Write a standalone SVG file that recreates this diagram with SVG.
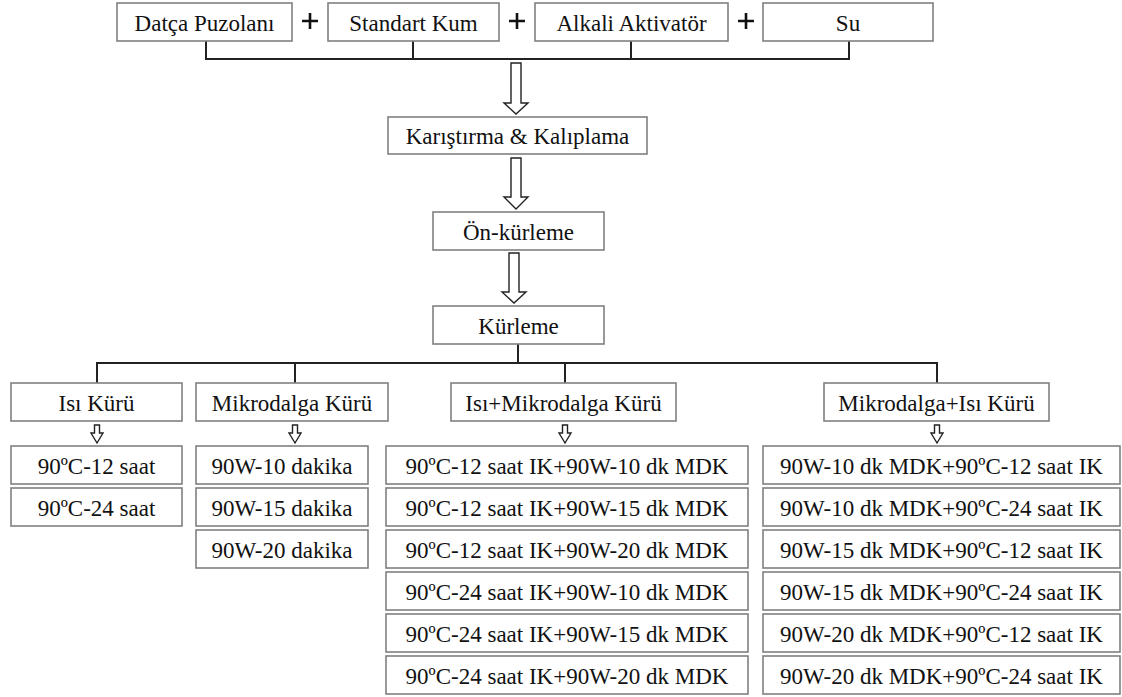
<svg xmlns="http://www.w3.org/2000/svg" width="1122" height="697" viewBox="0 0 1122 697">
<style>
.b{fill:#fff;stroke:#808080;stroke-width:1.6}
.t{font-family:'Liberation Serif','Times New Roman','DejaVu Serif',serif;font-size:23px;fill:#111;text-anchor:middle}
.c{fill:none;stroke:#222;stroke-width:2}
.a{fill:#fff;stroke:#222;stroke-width:1.4;stroke-linejoin:miter}
.p{stroke:#111;stroke-width:2.6}
</style>
<rect width="1122" height="697" fill="#fff"/>
<g id="connectors">
<path class="c" d="M206 41V59M413 41V59M631 41V59M849 41V59M205 59H850"/>
<path class="c" d="M518 344V363M97 383V363H937V383M295 363V383M565 363V383"/>
<polygon class="a" points="511,63 521,63 521,103 528,103 516,114 504,103 511,103"/>
<polygon class="a" points="511,158 521,158 521,197 528,197 516,209 504,197 511,197"/>
<polygon class="a" points="509,253 519,253 519,292 526,292 514,303 502,292 509,292"/>
<g id="smallarrows">
<polygon class="a" points="94.5,425 99.5,425 99.5,433 103,433 97,443 91,433 94.5,433"/>
<polygon class="a" points="292.5,425 297.5,425 297.5,433 301,433 295,443 289,433 292.5,433"/>
<polygon class="a" points="562.5,425 567.5,425 567.5,433 571,433 565,443 559,433 562.5,433"/>
<polygon class="a" points="934.5,425 939.5,425 939.5,433 943,433 937,443 931,433 934.5,433"/>
</g>
</g>
<g id="plus">
<path class="p" d="M302 21H318M310 13V29"/>
<path class="p" d="M509 21H525M517 13V29"/>
<path class="p" d="M738 21H754M746 13V29"/>
</g>
<g font-family="Liberation Serif, Times New Roman, DejaVu Serif, serif">
<g id="n-datca"><rect class="b" x="117" y="3" width="175" height="38"/><text class="t" x="204.5" y="31">Datça Puzolanı</text></g>
<g id="n-kum"><rect class="b" x="328" y="3" width="171" height="38"/><text class="t" x="413.5" y="31">Standart Kum</text></g>
<g id="n-alkali"><rect class="b" x="535" y="3" width="193" height="38"/><text class="t" x="631.5" y="31">Alkali Aktivatör</text></g>
<g id="n-su"><rect class="b" x="763" y="3" width="170" height="38"/><text class="t" x="848" y="31">Su</text></g>
<g id="n-karistirma"><rect class="b" x="388" y="117" width="259" height="37"/><text class="t" x="517.5" y="144">Karıştırma &amp; Kalıplama</text></g>
<g id="n-onkurleme"><rect class="b" x="433" y="212" width="171" height="38"/><text class="t" x="518.5" y="240">Ön-kürleme</text></g>
<g id="n-kurleme"><rect class="b" x="433" y="306" width="171" height="38"/><text class="t" x="518.5" y="334">Kürleme</text></g>
<g id="n-isi"><rect class="b" x="11" y="383" width="171" height="38"/><text class="t" x="96.5" y="411">Isı Kürü</text></g>
<g id="n-mikro"><rect class="b" x="196" y="383" width="192" height="38"/><text class="t" x="292" y="411">Mikrodalga Kürü</text></g>
<g id="n-isimikro"><rect class="b" x="451" y="383" width="225" height="38"/><text class="t" x="563.5" y="411">Isı+Mikrodalga Kürü</text></g>
<g id="n-mikroisi"><rect class="b" x="824" y="383" width="225" height="38"/><text class="t" x="936.5" y="411">Mikrodalga+Isı Kürü</text></g>
<g id="n-isi-1"><rect class="b" x="11" y="446" width="171" height="38"/><text class="t" x="96.5" y="474">90ºC-12 saat</text></g>
<g id="n-isi-2"><rect class="b" x="11" y="488" width="171" height="38"/><text class="t" x="96.5" y="516">90ºC-24 saat</text></g>
<g id="n-mikro-1"><rect class="b" x="196" y="446" width="172" height="38"/><text class="t" x="282" y="474">90W-10 dakika</text></g>
<g id="n-mikro-2"><rect class="b" x="196" y="488" width="172" height="38"/><text class="t" x="282" y="516">90W-15 dakika</text></g>
<g id="n-mikro-3"><rect class="b" x="196" y="530" width="172" height="38"/><text class="t" x="282" y="558">90W-20 dakika</text></g>
<g id="n-im-1"><rect class="b" x="386" y="446" width="362" height="38"/><text class="t" x="567" y="474">90ºC-12 saat IK+90W-10 dk MDK</text></g>
<g id="n-im-2"><rect class="b" x="386" y="488" width="362" height="38"/><text class="t" x="567" y="516">90ºC-12 saat IK+90W-15 dk MDK</text></g>
<g id="n-im-3"><rect class="b" x="386" y="530" width="362" height="38"/><text class="t" x="567" y="558">90ºC-12 saat IK+90W-20 dk MDK</text></g>
<g id="n-im-4"><rect class="b" x="386" y="572" width="362" height="38"/><text class="t" x="567" y="600">90ºC-24 saat IK+90W-10 dk MDK</text></g>
<g id="n-im-5"><rect class="b" x="386" y="614" width="362" height="38"/><text class="t" x="567" y="642">90ºC-24 saat IK+90W-15 dk MDK</text></g>
<g id="n-im-6"><rect class="b" x="386" y="656" width="362" height="38"/><text class="t" x="567" y="684">90ºC-24 saat IK+90W-20 dk MDK</text></g>
<g id="n-mi-1"><rect class="b" x="763" y="446" width="357" height="38"/><text class="t" x="941.5" y="474">90W-10 dk MDK+90ºC-12 saat IK</text></g>
<g id="n-mi-2"><rect class="b" x="763" y="488" width="357" height="38"/><text class="t" x="941.5" y="516">90W-10 dk MDK+90ºC-24 saat IK</text></g>
<g id="n-mi-3"><rect class="b" x="763" y="530" width="357" height="38"/><text class="t" x="941.5" y="558">90W-15 dk MDK+90ºC-12 saat IK</text></g>
<g id="n-mi-4"><rect class="b" x="763" y="572" width="357" height="38"/><text class="t" x="941.5" y="600">90W-15 dk MDK+90ºC-24 saat IK</text></g>
<g id="n-mi-5"><rect class="b" x="763" y="614" width="357" height="38"/><text class="t" x="941.5" y="642">90W-20 dk MDK+90ºC-12 saat IK</text></g>
<g id="n-mi-6"><rect class="b" x="763" y="656" width="357" height="38"/><text class="t" x="941.5" y="684">90W-20 dk MDK+90ºC-24 saat IK</text></g>
</g>
</svg>
